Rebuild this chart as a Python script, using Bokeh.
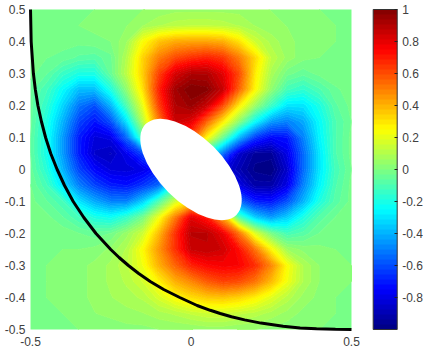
from bokeh.plotting import figure
from bokeh.models import LinearColorMapper, ColorBar, FixedTicker, Range1d
from bokeh.embed import file_html
from bokeh.resources import INLINE
import numpy as np

# values, rows from y=0.5 down to y=-0.5, columns x=-0.5..0.5
field_rows = [
 [0,0,0,0,0,.01,.02,.03,.04,.05,.05,.05,.05,.05,.04,.03,.02,.01,0,0,0],
 [0,0,0,0,.01,.02,.03,.06,.09,.11,.12,.12,.11,.09,.06,.04,.03,.02,.01,0,0],
 [-.01,-.01,-.02,-.02,-.01,0,.06,.24,.36,.41,.42,.42,.4,.3,.15,.08,.04,.02,.01,0,0],
 [-.02,-.03,-.04,-.07,-.08,-.04,.1,.33,.5,.6,.65,.68,.64,.5,.32,.12,.05,.01,0,0,0],
 [-.02,-.06,-.14,-.2,-.2,-.05,.12,.34,.62,.82,.9,.9,.8,.6,.28,.08,-.02,-.05,-.02,0,0],
 [-.05,-.12,-.25,-.38,-.38,-.2,.03,.3,.68,.93,1,.98,.85,.55,.25,.03,-.12,-.16,-.1,-.04,-.01],
 [-.05,-.16,-.33,-.52,-.6,-.4,-.1,.2,.62,.9,.95,.85,.6,.28,.05,-.14,-.3,-.3,-.2,-.07,-.02],
 [-.05,-.2,-.4,-.62,-.72,-.6,-.3,.1,.5,.85,.8,.55,.28,.02,-.25,-.45,-.5,-.42,-.25,-.1,-.03],
 [-.06,-.22,-.45,-.7,-.82,-.8,-.55,-.1,.3,.6,.6,.25,-.05,-.4,-.65,-.75,-.72,-.5,-.27,-.1,-.02],
 [-.06,-.22,-.45,-.7,-.85,-.88,-.78,-.62,-.2,0,.1,-.2,-.55,-.85,-.95,-.95,-.8,-.55,-.3,-.1,-.02],
 [-.05,-.18,-.4,-.62,-.75,-.82,-.83,-.8,-.7,-.4,-.2,-.5,-.8,-.9,-.98,-1,-.85,-.55,-.3,-.12,-.03],
 [-.03,-.12,-.3,-.5,-.62,-.7,-.72,-.65,-.55,-.2,0,-.3,-.65,-.8,-.92,-.92,-.8,-.5,-.27,-.1,-.02],
 [-.02,-.06,-.12,-.3,-.42,-.5,-.5,-.35,-.1,.15,.3,-.1,-.4,-.55,-.7,-.72,-.6,-.4,-.2,-.08,-.02],
 [0,-.02,-.06,-.12,-.2,-.23,-.15,-.02,.22,.5,.8,.7,.4,-.1,-.35,-.45,-.35,-.2,-.08,-.03,-.01],
 [0,0,-.01,-.03,-.05,-.03,.05,.15,.38,.65,.88,.88,.78,.52,.18,-.02,-.12,-.08,-.03,0,0],
 [0,0,0,0,.01,.04,.1,.25,.45,.65,.85,.87,.84,.72,.52,.26,.06,.02,.01,0,0],
 [0,0,.01,.02,.04,.07,.12,.22,.4,.55,.68,.74,.76,.75,.66,.48,.24,.09,.03,.01,0],
 [0,0,.01,.02,.04,.07,.1,.16,.27,.4,.48,.57,.62,.6,.52,.38,.22,.09,.03,.01,0],
 [0,0,.01,.02,.04,.06,.08,.1,.17,.25,.31,.35,.36,.33,.27,.19,.11,.05,.02,0,0],
 [0,0,0,.01,.03,.04,.05,.06,.08,.1,.13,.15,.15,.13,.11,.08,.05,.02,.01,0,0],
 [0,0,0,0,.01,.01,.02,.02,.03,.03,.03,.04,.04,.03,.03,.02,.01,.01,0,0,0],
]
field_x = [-.5,-.45,-.4,-.35,-.3,-.25,-.2,-.15,-.1,-.05,0,.05,.1,.15,.2,.25,.3,.35,.4,.45,.5]
field_y = [.5,.45,.4,.35,.3,.25,.2,.15,.1,.05,0,-.05,-.1,-.15,-.2,-.25,-.3,-.35,-.4,-.45,-.5]
curve_x = [-.5,-.498,-.491,-.485,-.477,-.466,-.453,-.437,-.417,-.394,-.367,-.334,-.296,-.25,-.224,-.195,-.163,-.127,-.085,-.035,.019,.06,.091,.126,.167,.218,.287,.34,.391,.45,.5]
curve_y = [.5,.4,.3,.25,.2,.15,.1,.05,0,-.05,-.1,-.15,-.2,-.25,-.275,-.3,-.325,-.35,-.375,-.4,-.425,-.44,-.45,-.46,-.47,-.48,-.49,-.495,-.498,-.4995,-.5]
x_tick_labels = {-.5:"-0.5", 0:"0", .5:"0.5"}
y_tick_labels = {-.5:"-0.5",-.4:"-0.4",-.3:"-0.3",-.2:"-0.2",-.1:"-0.1",0:"0",.1:"0.1",.2:"0.2",.3:"0.3",.4:"0.4",.5:"0.5"}
cbar_ticks = [-.8,-.6,-.4,-.2,0,.2,.4,.6,.8,1]
cbar_labels = {-.8:"-0.8",-.6:"-0.6",-.4:"-0.4",-.2:"-0.2",0:"0",.2:"0.2",.4:"0.4",.6:"0.6",.8:"0.8",1:"1"}

def jet(n=64):
    out = []
    for i in range(n):
        t = (i + .5) / n
        r = np.clip(1.5 - abs(4*t - 3), 0, 1)
        g = np.clip(1.5 - abs(4*t - 2), 0, 1)
        b = np.clip(1.5 - abs(4*t - 1), 0, 1)
        out.append("#%02x%02x%02x" % (int(r*255), int(g*255), int(b*255)))
    return out

palette = jet()
mapper = LinearColorMapper(palette=palette, low=-1, high=1)
lim = .5125
p = figure(width=423, height=349, output_backend="svg", toolbar_location=None,
           x_range=Range1d(-lim, lim), y_range=Range1d(-lim, lim),
           min_border_left=26, min_border_right=68, min_border_top=5, min_border_bottom=16,
           styles={"position": "absolute", "left": "0px", "top": "0px"})
p.outline_line_color = None
p.grid.visible = False
levels = np.linspace(-1, 1, len(palette) + 1)
z = np.array(field_rows, dtype=float)
p.contour(field_x, field_y, z, levels, fill_color=palette, line_color=palette + [palette[-1]], line_width=1)
p.ellipse(x=[0], y=[0], width=[.4], height=[.2], angle=[-np.pi/4], fill_color="white", line_color=None)
p.line(curve_x, curve_y, line_color="black", line_width=3)

for ax, labels in ((p.xaxis, x_tick_labels), (p.yaxis, y_tick_labels)):
    ax.ticker = FixedTicker(ticks=list(labels))
    ax.major_label_overrides = labels
    ax.axis_line_color = None
    ax.major_tick_line_color = None
    ax.minor_tick_line_color = None
    ax.major_tick_in = 0
    ax.major_tick_out = 0
    ax.major_label_text_font = "Liberation Sans"
    ax.major_label_text_font_size = "12px"
    ax.major_label_text_color = "#404040"
p.yaxis.major_label_standoff = 1
p.xaxis.major_label_standoff = 3

cb = ColorBar(color_mapper=mapper, location=(346.7, 4), width=24, height=320, padding=0, margin=0,
              ticker=FixedTicker(ticks=cbar_ticks), major_label_overrides=cbar_labels,
              major_tick_line_color="#222222", major_tick_in=3, minor_tick_line_color=None,
              bar_line_color="#333333", border_line_color=None, background_fill_color=None,
              major_label_text_font="Liberation Sans", major_label_text_font_size="12px",
              major_label_text_color="#404040", label_standoff=5)
p.add_layout(cb, "center")
open("out.html", "w").write(file_html(p, INLINE))
